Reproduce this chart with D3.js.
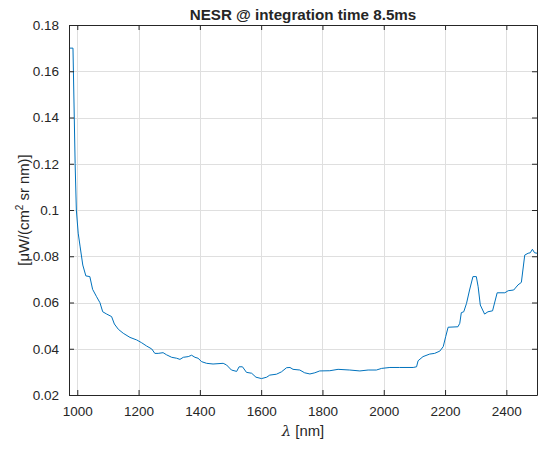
<!DOCTYPE html>
<meta charset="utf-8">
<head>
  <title>NESR</title>
</head>

<style>
body { margin: 0; background: #fff; }
text { font-family: "Liberation Sans", Arial, Helvetica, sans-serif; fill: #262626; }
.grid line { stroke: #dfdfdf; stroke-width: 1; }
</style>

<body>
  <svg width="546" height="450"></svg>

  <script src="https://cdnjs.cloudflare.com/ajax/libs/d3/7.8.5/d3.min.js"></script>
  <script>
// wavelength (nm) and NESR values
var wavelength = [973, 986, 993, 997, 1003, 1009, 1018, 1028, 1041, 1050, 1063, 1074, 1083, 1096,
  1112, 1121, 1134, 1150, 1172, 1194, 1210, 1226, 1243, 1253, 1264, 1280, 1291, 1308, 1324, 1335,
  1346, 1362, 1373, 1384, 1394, 1406, 1422, 1443, 1476, 1487, 1503, 1520, 1528, 1539, 1552, 1569,
  1583, 1601, 1618, 1628, 1650, 1666, 1683, 1694, 1704, 1726, 1742, 1759, 1775, 1791, 1824, 1851,
  1889, 1922, 1949, 1976, 1993, 2020, 2052, 2096, 2107, 2112, 2128, 2150, 2166, 2183, 2194, 2202,
  2210, 2242, 2248, 2253, 2261, 2270, 2280, 2291, 2302, 2308, 2315, 2329, 2340, 2355, 2370, 2395,
  2406, 2424, 2438, 2449, 2460, 2471, 2478, 2485, 2492, 2500]
var nesr = [0.170, 0.170, 0.120, 0.100, 0.090, 0.0844, 0.0762, 0.0715, 0.0712, 0.0657, 0.0625, 0.0599, 0.056, 0.055,
  0.0539, 0.0507, 0.0484, 0.0467, 0.0449, 0.0438, 0.0426, 0.0412, 0.0399, 0.038, 0.038, 0.0383, 0.0374, 0.0363, 0.0359, 0.0354,
  0.0363, 0.0366, 0.0372, 0.0363, 0.0359, 0.0344, 0.0337, 0.0334, 0.0337, 0.033, 0.0308, 0.0302, 0.0322, 0.0322, 0.0298, 0.0294,
  0.0277, 0.0271, 0.0277, 0.0286, 0.029, 0.030, 0.0318, 0.0319, 0.0311, 0.0308, 0.0296, 0.0291, 0.0296, 0.0304, 0.0305, 0.0311,
  0.0308, 0.0304, 0.0308, 0.0308, 0.0315, 0.0319, 0.0319, 0.0319, 0.0322, 0.0348, 0.0366, 0.0377, 0.038, 0.039, 0.0409, 0.0452,
  0.0493, 0.0495, 0.051, 0.0556, 0.056, 0.0596, 0.0654, 0.0712, 0.0712, 0.0668, 0.0589, 0.055, 0.056, 0.0564, 0.0642, 0.0642,
  0.0651, 0.0654, 0.0676, 0.0687, 0.0805, 0.0813, 0.0815, 0.083, 0.0815, 0.0813]

var xTicks = [1000, 1200, 1400, 1600, 1800, 2000, 2200, 2400]
var yTicks = [0.02, 0.04, 0.06, 0.08, 0.1, 0.12, 0.14, 0.16, 0.18]

var width = 546, height = 450
var margin = {top: 25, right: 9, bottom: 55, left: 69}
var w = width - margin.left - margin.right
var h = height - margin.top - margin.bottom

var svg = d3.select('svg')
var g = svg.append('g').attr('transform', 'translate(' + margin.left + ',' + margin.top + ')')

var x = d3.scaleLinear().domain([973, 2500]).range([0, w])
var y = d3.scaleLinear().domain([0.02, 0.18]).range([h, 0])

// grid
g.append('g').attr('class', 'grid')
  .selectAll('line').data(xTicks).enter().append('line')
  .attr('x1', function(d) { return Math.round(x(d)) + 0.5 })
  .attr('x2', function(d) { return Math.round(x(d)) + 0.5 })
  .attr('y1', 0).attr('y2', h)
g.append('g').attr('class', 'grid')
  .selectAll('line').data(yTicks.slice(1, -1)).enter().append('line')
  .attr('y1', function(d) { return Math.round(y(d)) + 0.5 })
  .attr('y2', function(d) { return Math.round(y(d)) + 0.5 })
  .attr('x1', 0).attr('x2', w)

// the line
var line = d3.line()
  .x(function(d, i) { return x(wavelength[i]) })
  .y(function(d) { return y(d) })

g.append('path')
  .datum(nesr)
  .attr('fill', 'none')
  .attr('stroke', '#0072BD')
  .attr('stroke-width', 1)
  .attr('d', line)

// axes (ticks inside, box on)
var fmtY = function(d) { return String(+d.toFixed(2)) }
var bottomAxis = d3.axisBottom(x).tickValues(xTicks).tickFormat(d3.format('d')).tickSizeInner(-5).tickSizeOuter(0).tickPadding(11)
var leftAxis = d3.axisLeft(y).tickValues(yTicks).tickFormat(fmtY).tickSizeInner(-5).tickSizeOuter(0).tickPadding(10)
var topAxis = d3.axisTop(x).tickValues(xTicks).tickSizeInner(-5).tickSizeOuter(0).tickFormat('')
var rightAxis = d3.axisRight(y).tickValues(yTicks).tickSizeInner(-5).tickSizeOuter(0).tickFormat('')

function style(sel) {
  sel.selectAll('path').attr('stroke', '#262626').attr('stroke-width', 1)
  sel.selectAll('line').attr('stroke', '#262626')
  sel.selectAll('text').attr('font-size', 13.5).attr('fill', '#262626')
  sel.attr('font-family', null)
}

g.append('g').attr('transform', 'translate(0,' + h + ')').call(bottomAxis).call(style)
g.append('g').call(leftAxis).call(style)
g.append('g').call(topAxis).call(style)
g.append('g').attr('transform', 'translate(' + w + ',0)').call(rightAxis).call(style)

// title and labels
svg.append('text')
  .attr('x', margin.left + w / 2).attr('y', 20)
  .attr('text-anchor', 'middle')
  .attr('font-size', 15.2).attr('font-weight', 'bold')
  .text('NESR @ integration time 8.5ms')

var xl = svg.append('text')
  .attr('x', margin.left + w / 2).attr('y', 436)
  .attr('text-anchor', 'middle')
  .attr('font-size', 14.85)
xl.append('tspan').attr('font-family', '"DejaVu Serif", serif').attr('font-style', 'italic').text('λ')
xl.append('tspan').text(' [nm]')

var yl = svg.append('text')
  .attr('transform', 'translate(29,' + (margin.top + h / 2) + ') rotate(-90)')
  .attr('text-anchor', 'middle')
  .attr('font-size', 14.85)
yl.append('tspan').text('[μW/(cm')
yl.append('tspan').attr('dy', -6).attr('font-size', 10).text('2')
yl.append('tspan').attr('dy', 6).text(' sr nm)]')
  </script>
</body>
</html>
